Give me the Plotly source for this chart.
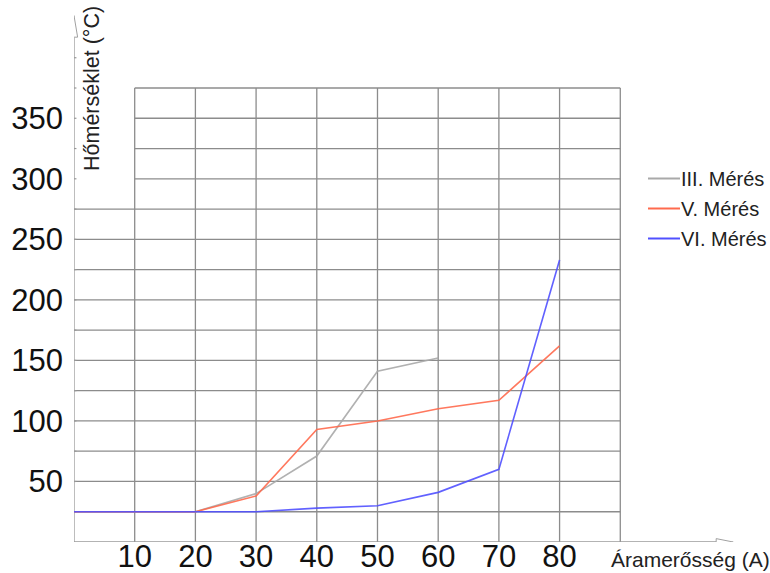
import plotly.graph_objects as go

current = [0, 10, 20, 30, 40, 50, 60, 70, 80]
meres_iii = [25, 25, 25, 40, 71, 141, 152]
meres_v = [25, 25, 25, 38, 93, 100, 110, 117, 162]
meres_vi = [25, 25, 25, 25, 28, 30, 41, 60, 233]
series_names = ["III. Mérés", "V. Mérés", "VI. Mérés"]
series_colors = ["#a9a9a9", "#ff6a4d", "#5050ff"]
y_tick_vals = [50, 100, 150, 200, 250, 300, 350]
x_tick_vals = [10, 20, 30, 40, 50, 60, 70, 80]

W, H = 770, 573
ML, MR, MT, MB = 74, 35, 15, 31
PW, PH = W - ML - MR, H - MT - MB
X_MAX = 108.9
Y_MAX = 435.3
FONT = "Liberation Sans, Arial, sans-serif"


def px(x):
    return (x - ML) / PW


def py(y):
    return (H - MB - y) / PH


fig = go.Figure()
for name, ys, col in zip(series_names, [meres_iii, meres_v, meres_vi], series_colors):
    fig.add_trace(go.Scatter(x=current[:len(ys)], y=ys, mode="lines", name=name,
                             line=dict(color=col, width=1.6), opacity=0.9,
                             showlegend=False))

shapes = []
grid = dict(color="#8c8c8c", width=1.3)
for gx in range(10, 100, 10):
    y0 = -27 if gx == 90 else 0
    shapes.append(dict(type="line", xref="x", yref="y", x0=gx, x1=gx, y0=y0, y1=375, line=grid, layer="below"))
for gy in range(25, 400, 25):
    x0 = 10 if gy >= 300 else 0
    shapes.append(dict(type="line", xref="x", yref="y", x0=x0, x1=90, y0=gy, y1=gy, line=grid, layer="below"))
for gy in range(25, 425, 25):
    shapes.append(dict(type="line", xref="x", yref="y", x0=-0.55, x1=0.4, y0=gy, y1=gy,
                       line=dict(color="#999999", width=1.2), layer="below"))
axis_line = dict(color="#9a9a9a", width=1.3)
shapes.append(dict(type="line", xref="x", yref="y", x0=0, x1=105.8, y0=0, y1=0, line=axis_line, layer="below"))
shapes.append(dict(type="line", xref="x", yref="y", x0=0, x1=0, y0=0, y1=417, line=axis_line, layer="below"))
shapes.append(dict(type="path", xref="x", yref="y",
                   path=f"M 105.8 -2.8 L {X_MAX - 0.3} 0 L 105.8 2.8 Z",
                   line=dict(color="#a0a0a0", width=1), fillcolor="white"))
shapes.append(dict(type="path", xref="x", yref="y",
                   path=f"M -0.6 417 L 0 {Y_MAX - 0.5} L 0.6 417 Z",
                   line=dict(color="#a0a0a0", width=1), fillcolor="white"))

annotations = [
    dict(text="Hőmérséklet (°C)", x=px(92), y=py(89), xref="paper", yref="paper", textangle=-90,
         showarrow=False, font=dict(size=21.5, color="#222222", family=FONT),
         xanchor="center", yanchor="middle"),
    dict(text="Áramerősség (A)", x=px(690), y=py(559), xref="paper", yref="paper",
         showarrow=False, font=dict(size=21, color="#222222", family=FONT),
         xanchor="center", yanchor="middle"),
]

legend_rows = [178.5, 208.5, 238.5]
for name, col, ry in zip(series_names, series_colors, legend_rows):
    shapes.append(dict(type="line", xref="paper", yref="paper", x0=px(648), x1=px(680),
                       y0=py(ry), y1=py(ry), line=dict(color=col, width=2)))
    annotations.append(dict(text=name, x=px(680), y=py(ry), xref="paper", yref="paper",
                            showarrow=False, xanchor="left", yanchor="middle", borderpad=0,
                            font=dict(size=20, color="#222222", family=FONT)))

fig.update_layout(
    width=W, height=H,
    margin=dict(l=ML, r=MR, t=MT, b=MB),
    paper_bgcolor="white", plot_bgcolor="white",
    font=dict(family=FONT, color="#111111"),
    shapes=shapes, annotations=annotations,
    showlegend=False,
    xaxis=dict(range=[0, X_MAX], showgrid=False, zeroline=False, showline=False,
               tickvals=x_tick_vals, ticks="", tickfont=dict(size=31, color="#111111"),
               ticklabelstandoff=-7, automargin=False, fixedrange=True),
    yaxis=dict(range=[0, Y_MAX], showgrid=False, zeroline=False, showline=False,
               tickvals=y_tick_vals, ticks="", tickfont=dict(size=31, color="#111111"),
               ticklabelstandoff=10, automargin=False, fixedrange=True),
)

fig.write_html("out.html", config={"displayModeBar": False},
               post_script="document.body.style.margin='0px';")
